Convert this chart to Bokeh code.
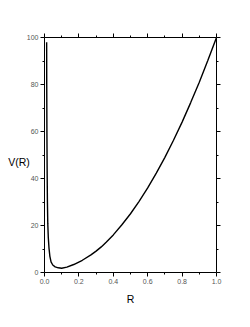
from bokeh.plotting import figure
from bokeh.models import LinearAxis, FixedTicker, PrintfTickFormatter, CustomJSTickFormatter, Range1d
from bokeh.embed import file_html
from bokeh.resources import INLINE

R = [0.0125, 0.013, 0.014, 0.0155, 0.017, 0.019, 0.022, 0.026, 0.031, 0.038, 0.048, 0.062,
     0.08, 0.1, 0.13, 0.17, 0.22, 0.27, 0.3, 0.33, 0.36, 0.4, 0.45, 0.5, 0.55, 0.6, 0.65, 0.7,
     0.75, 0.8, 0.85, 0.9, 0.95, 1.0]
V = [98, 80, 60, 42, 30, 21, 15, 10.5, 7, 4.5, 3.2, 2.4,
     2.0, 1.8, 2.3, 3.4, 5.2, 7.5, 9.1, 10.9, 13.0, 16.0, 20.3, 25.0, 30.3, 36.0, 42.3, 49.0,
     56.3, 64, 72.3, 81, 90.3, 100]

x_major = [0.0, 0.2, 0.4, 0.6, 0.8, 1.0]
x_minor = [0.1, 0.3, 0.5, 0.7, 0.9]
y_major = [0, 20, 40, 60, 80, 100]
y_minor = [10, 30, 50, 70, 90]

p = figure(width=242, height=319, output_backend="svg", toolbar_location=None,
           x_range=Range1d(0, 1), y_range=Range1d(0, 100),
           x_axis_location=None, y_axis_location=None,
           min_border_left=44, min_border_right=26, min_border_top=37, min_border_bottom=47)
p.outline_line_color = None
p.grid.visible = False
p.background_fill_color = "white"

p.line(R, V, line_color="black", line_width=1.4)

xt = FixedTicker(ticks=x_major, minor_ticks=x_minor)
yt = FixedTicker(ticks=y_major, minor_ticks=y_minor)
blank = CustomJSTickFormatter(code="return ''")

def style(ax):
    ax.axis_line_color = "black"
    ax.axis_line_width = 1
    ax.major_tick_line_color = "black"
    ax.minor_tick_line_color = "black"
    ax.major_tick_out = 4
    ax.major_tick_in = 0
    ax.minor_tick_out = 2
    ax.minor_tick_in = 0
    ax.major_label_text_font = "Liberation Sans"
    ax.major_label_text_font_size = "7px"
    ax.major_label_text_color = "#555555"
    ax.axis_label_text_font = "Liberation Sans"
    ax.axis_label_text_font_size = "10.5px"
    ax.axis_label_text_font_style = "normal"
    ax.axis_label_text_color = "black"

bottom = LinearAxis(ticker=xt, formatter=PrintfTickFormatter(format="%.1f"), axis_label="R")
style(bottom)
bottom.major_label_standoff = 2
bottom.axis_label_standoff = 6
p.add_layout(bottom, "below")

left = LinearAxis(ticker=yt, formatter=PrintfTickFormatter(format="%d"), axis_label="\nV(R)")
style(left)
left.major_label_standoff = 2
left.axis_label_orientation = "horizontal"
left.axis_label_standoff = -6
p.add_layout(left, "left")

top = LinearAxis(ticker=xt, formatter=blank)
style(top)
top.major_label_standoff = 0
p.add_layout(top, "above")

right = LinearAxis(ticker=yt, formatter=blank)
style(right)
right.major_label_standoff = 0
p.add_layout(right, "right")

open("out.html", "w").write(file_html(p, INLINE))
